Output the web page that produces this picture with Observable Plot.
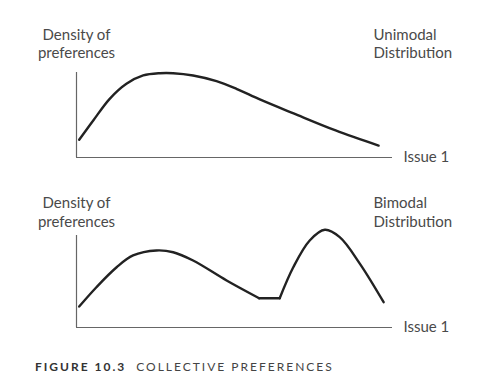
<!DOCTYPE html>
<html>
<head>
<meta charset="utf-8">
<script src="https://cdn.jsdelivr.net/npm/d3@7"></script>
<script src="https://cdn.jsdelivr.net/npm/@observablehq/plot@0.6"></script>
<style>
  html, body { margin: 0; padding: 0; background: #fff; }
  #chart { width: 479px; }
  .caption { font-family: Lato, "Open Sans", sans-serif; font-size: 12px; letter-spacing: 2px; color: #444; margin-top: 20px; padding-left: 35px; line-height: 14px; white-space: nowrap; }
  .caption b { color: #333; font-weight: 700; margin-right: 10px; }
</style>
</head>
<body>
<div id="chart"></div>
<script>
// Issue position (0-100) and density (0-100, axis top = 100)
const uniX = [0.85, 5.3, 10.5, 15.8, 21.1, 26.4, 30.6, 36.9, 44.3, 50.6, 58.2, 68.7, 82, 95.6];
const uniY = [20.8, 43.5, 69, 86.7, 96.5, 99.2, 99.2, 96.5, 89.8, 80.8, 68, 51.8, 31.8, 14];

const biX   = [0.85, 6.3, 12.7, 17.9, 25.3, 30.6, 36.9, 47.5, 57.8, 57.8, 64.3, 64.3, 68.6, 73.8, 78.6, 83.3, 89.7, 97.2];
const biY   = [22.8, 43.8, 65.5, 78.3, 83.7, 81.8, 72.8, 51.1, 31.8, 31.8, 31.8, 31.8, 65.5, 94.6, 106.2, 98.2, 69.2, 27.5];
const biSeg = ["a","a","a","a","a","a","a","a","a","b","b","c","c","c","c","c","c","c"];

const yLabel = "Density of\npreferences";
const xLabel = "Issue 1";
const panelTitles = ["Unimodal\nDistribution", "Bimodal\nDistribution"];
const captionBold = "FIGURE 10.3";
const captionText = "COLLECTIVE PREFERENCES";

const uni = uniX.map((x, i) => ({x, y: uniY[i], seg: "a"}));
const bi = biX.map((x, i) => ({x, y: biY[i], seg: biSeg[i]}));

const font = "Lato, 'Open Sans', sans-serif";

function panel(data, title, opts) {
  return Plot.plot({
    width: 479,
    height: opts.height,
    marginLeft: 76,
    marginRight: 87,
    marginTop: opts.marginTop,
    marginBottom: opts.marginBottom,
    x: {domain: [0, 100], axis: null},
    y: {domain: [0, 100], axis: null},
    style: {fontFamily: font, background: "#fff", overflow: "visible"},
    marks: [
      Plot.ruleX([0], {stroke: "#666", strokeWidth: 1.2}),
      Plot.ruleY([0], {stroke: "#666", strokeWidth: 1.2}),
      Plot.line(data, {x: "x", y: "y", z: "seg", curve: "catmull-rom", stroke: "#222", strokeWidth: 2.4, strokeLinejoin: "round", strokeLinecap: "round"}),
      Plot.text([yLabel], {x: () => 0, y: () => opts.labelY, text: d => d, textAnchor: "middle", lineAnchor: "bottom", lineHeight: 1.25, fontSize: 15, fill: "#4a4a4a"}),
      Plot.text([title], {x: () => 94, y: () => opts.labelY, text: d => d, textAnchor: "start", lineAnchor: "bottom", lineHeight: 1.25, fontSize: 15, fill: "#4a4a4a"}),
      Plot.text([xLabel], {x: () => 100, y: () => 0, text: d => d, textAnchor: "start", lineAnchor: "middle", dx: 11, fontSize: 15, fill: "#4a4a4a"})
    ]
  });
}

const chart = document.getElementById("chart");
chart.append(panel(uni, panelTitles[0], {height: 180, marginTop: 72, marginBottom: 23, labelY: 116.5}));
chart.append(panel(bi, panelTitles[1], {height: 160, marginTop: 55, marginBottom: 13, labelY: 109.5}));
const cap = document.createElement("div");
cap.className = "caption";
const b = document.createElement("b");
b.textContent = captionBold;
cap.append(b, captionText);
chart.append(cap);
</script>
</body>
</html>
